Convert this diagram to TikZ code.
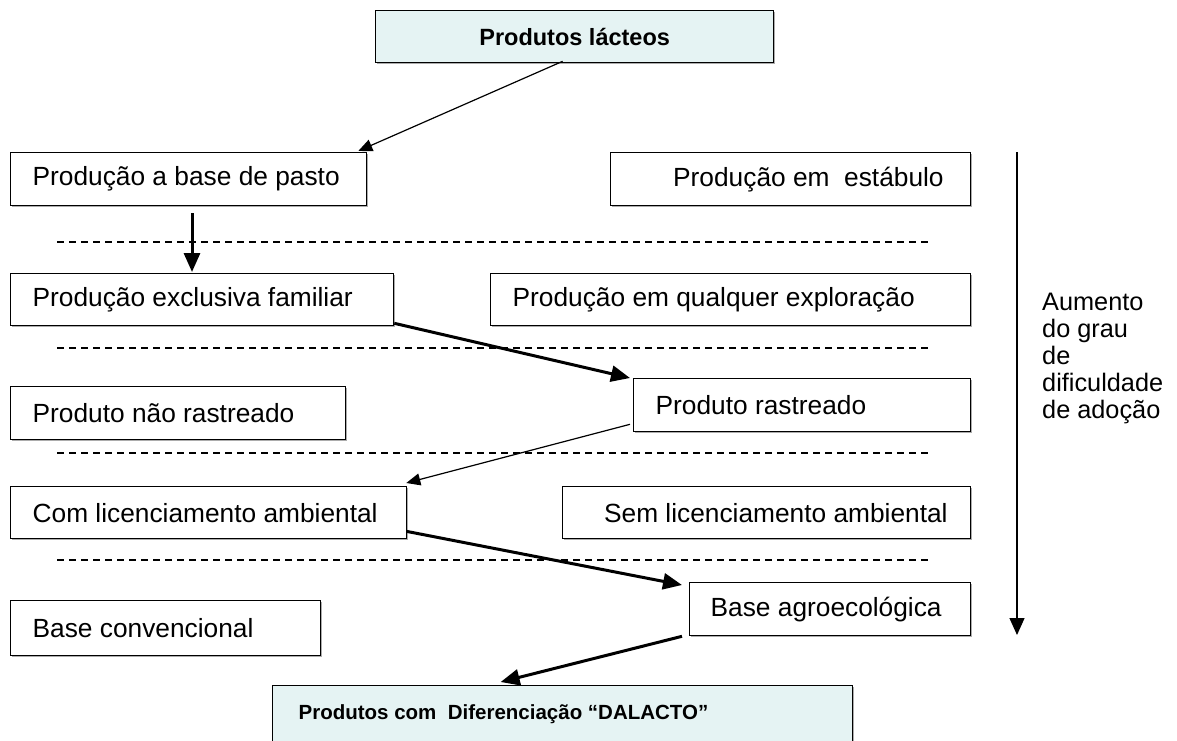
\documentclass[tikz,border=0pt]{standalone}
\usepackage{fontspec}
\setmainfont{Liberation Sans}
\usetikzlibrary{arrows.meta,calc,shadows}
\definecolor{milk}{RGB}{229,243,243}

\begin{document}
\begin{tikzpicture}[x=1pt,y=-1pt,line cap=butt,
  stage/.style={draw,line width=1.3pt,fill=white,anchor=north west,
    minimum height=53pt,inner ysep=0pt,font=\fontsize{26.3}{30}\selectfont,
    drop shadow={shadow xshift=1.8pt,shadow yshift=-1.8pt,fill=gray!65,opacity=1}},
  headbox/.style={stage,fill=milk,font=\bfseries\fontsize{23.5}{27}\selectfont},
  thin/.style={line width=1.2pt,-{Triangle[length=14pt,width=12pt]}},
  thick/.style={line width=3pt,-{Triangle[length=19pt,width=16pt]}},
  level/.style={line width=1.2pt,dash pattern=on 7pt off 5pt}]
  \clip (0,0) rectangle (1177,740);
  \useasboundingbox (0,0) rectangle (1177,740);
  \node[headbox,minimum width=398pt,minimum height=52pt] (lacteos) at (375,10) {Produtos lácteos};
  \node[stage,inner xsep=22pt] (pasto) at (10,152) {\makebox[312pt][l]{Produção a base de pasto}};
  \node[stage,inner xsep=27pt] (estabulo) at (610,152) {\makebox[306pt][r]{Produção em\ \ estábulo}};
  \node[stage,inner xsep=22pt,minimum height=52pt] (familiar) at (10,273) {\makebox[339pt][l]{Produção exclusiva familiar}};
  \node[stage,inner xsep=22pt,minimum height=52pt] (qualquer) at (490,273) {\makebox[436pt][l]{Produção em qualquer exploração}};
  \node[stage,inner xsep=22pt] (naorastreado) at (10,386) {\makebox[291pt][l]{Produto não rastreado}};
  \node[stage,inner xsep=22pt] (rastreado) at (633,378) {\makebox[293pt][l]{Produto rastreado}};
  \node[stage,inner xsep=22pt,minimum height=52pt] (comlic) at (10,486) {\makebox[352pt][l]{Com licenciamento ambiental}};
  \node[stage,inner xsep=23pt,minimum height=52pt] (semlic) at (562,486) {\makebox[362pt][r]{Sem licenciamento ambiental}};
  \node[stage,inner xsep=22pt,minimum height=55pt] (convencional) at (10,600) {\makebox[266pt][l]{Base convencional}};
  \node[stage,inner xsep=21pt] (agro) at (689,582) {\makebox[239pt][l]{Base agroecológica}};
  \node[headbox,font=\bfseries\fontsize{20.5}{24}\selectfont,inner xsep=26pt,minimum height=57pt] (dalacto) at (272,685) {\makebox[528pt][l]{Produtos com\ \ Diferenciação “DALACTO”}};
  \foreach \y in {242,348,453,560} {
    \draw[level] (57,\y) -- (930,\y);
  }
  \draw[thin] ($(lacteos.south)+(-12,-2)$) -- ($(pasto.north east)+(-9,-1)$);
  \draw[thick] ($(pasto.south west)+(182,7)$) -- ($(familiar.north west)+(182,-1)$);
  \draw[thick] ($(familiar.south east)+(0,-3)$) -- ($(rastreado.north west)+(-3,0)$);
  \draw[thin] ($(rastreado.south west)+(-3,-8)$) -- ($(comlic.north east)+(-1,-3)$);
  \draw[thick] ($(comlic.south east)+(-1,-8)$) -- ($(agro.north west)+(-7,3)$);
  \draw[thick] ($(agro.south west)+(-7,0)$) -- ($(dalacto.north)+(-62,-3)$);
  \coordinate (gtop) at (1017,152);
  \coordinate (gbot) at (1017,635);
  \draw[line width=1.3pt,-{Triangle[length=17pt,width=15pt]}] (gtop) -- (gbot);
  \node[anchor=west,align=left,inner sep=0pt,font=\fontsize{25.3}{27}\selectfont] (grau) at (1042,358) {Aumento\\do grau\\de\\dificuldade\\de adoção};
\end{tikzpicture}
\end{document}
